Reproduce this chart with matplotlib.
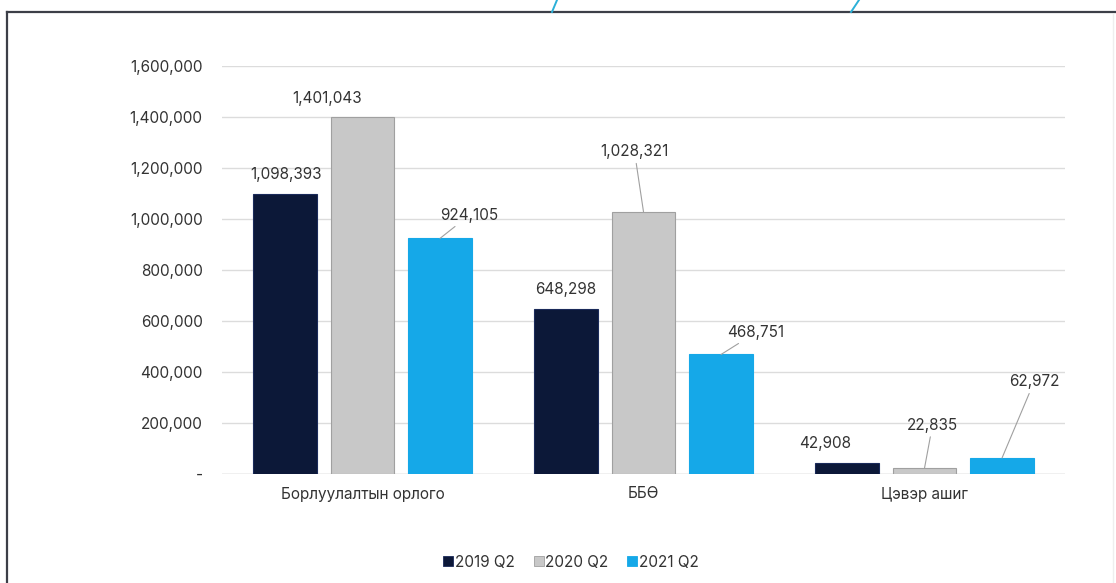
import matplotlib
matplotlib.use("Agg")
import matplotlib.pyplot as plt
from matplotlib.lines import Line2D
import numpy as np

categories = ["Борлуулалтын орлого", "ББӨ", "Цэвэр ашиг"]
series_names = ["2019 Q2", "2020 Q2", "2021 Q2"]
v2019 = [1098393, 648298, 42908]
v2020 = [1401043, 1028321, 22835]
v2021 = [924105, 468751, 62972]
yticks = [0, 200000, 400000, 600000, 800000, 1000000, 1200000, 1400000, 1600000]

colors = ["#0c1838", "#c8c8c8", "#15a8e8"]
edges = ["#1a2a5a", "#a0a0a0", "#15a8e8"]

# label offsets in pixels (dx, dy) relative to bar top centre, and whether a leader line is drawn
label_offsets = [
    [(1, 19, False), (0, 19, False), (-22, 20, False)],
    [(-35, 18, False), (-9, 60, True), (8, 43, True)],
    [(29, 23, True), (35, 22, True), (32, 76, True)],
]

W, H = 1116, 583
dpi = 100
plt.rcParams['font.family'] = ['Inter', 'DejaVu Sans']
fig = plt.figure(figsize=(W / dpi, H / dpi), dpi=dpi)
fig.patch.set_facecolor("white")

ax = fig.add_axes([222 / W, 1 - 474 / H, (1065 - 222) / W, (474 - 66) / H])
x = np.arange(len(categories))
width = 0.225
step = 0.276
series = [v2019, v2020, v2021]
px_to_pt = 72 / dpi
text_color = "#333333"
fs = 11
for i, (vals, c, e) in enumerate(zip(series, colors, edges)):
    xs = x + (i - 1) * step
    ax.bar(xs, vals, width=width, color=c, edgecolor=e, linewidth=0.8, zorder=3, label=series_names[i])
    for j, (xx, v) in enumerate(zip(xs, vals)):
        dx, dy, lead = label_offsets[i][j]
        kw = {}
        if lead:
            kw["arrowprops"] = dict(arrowstyle="-", color="#a0a0a0", lw=0.8, shrinkA=1, shrinkB=0)
        ax.annotate(f"{v:,}", xy=(xx, v), xytext=(dx * px_to_pt, dy * px_to_pt),
                    textcoords="offset points", ha="center", va="center",
                    fontsize=fs, color=text_color, zorder=5, **kw)

ax.set_xlim(-0.5, len(categories) - 0.5)
ax.set_ylim(0, 1600000)
ax.set_yticks(yticks)
ax.set_yticklabels(["-" if t == 0 else f"{t:,}" for t in yticks])
ax.set_xticks(x)
ax.set_xticklabels(categories)
ax.tick_params(axis="both", length=0, labelsize=fs, colors=text_color)
ax.tick_params(axis="y", pad=14)
ax.tick_params(axis="x", pad=9)
for s in ax.spines.values():
    s.set_visible(False)
ax.yaxis.grid(True, color="#dcdcdc", linewidth=1.0, zorder=0)
ax.set_axisbelow(True)
ax.axhline(0, color="#d0d0d0", linewidth=1.0, zorder=2)

handles = [Line2D([0], [0], marker="s", linestyle="none", markersize=7,
                  markerfacecolor=c, markeredgecolor=e, markeredgewidth=0.6) for c, e in zip(colors, edges)]
fig.legend(handles, series_names, loc="center", bbox_to_anchor=(571 / W, 1 - 562 / H),
           ncol=3, frameon=False, fontsize=fs, handlelength=0.7, handletextpad=0.1,
           columnspacing=1.2, labelcolor=text_color)

# frame
fig.add_artist(Line2D([7 / W, 7 / W], [0, 1 - 12 / H], color="#3c3f48", lw=1.6, transform=fig.transFigure))
fig.add_artist(Line2D([7 / W, 1], [1 - 12 / H, 1 - 12 / H], color="#3c3f48", lw=1.6, transform=fig.transFigure))
fig.add_artist(Line2D([1113 / W, 1113 / W], [0, 1 - 14 / H], color="#eeeeee", lw=1.0, transform=fig.transFigure))
for x0, x1 in [(557, 552), (859, 851)]:
    fig.add_artist(Line2D([x0 / W, x1 / W], [1, 1 - 12 / H], color="#2bb0d8", lw=1.4, transform=fig.transFigure))

fig.savefig("out.png", dpi=dpi, facecolor="white")
